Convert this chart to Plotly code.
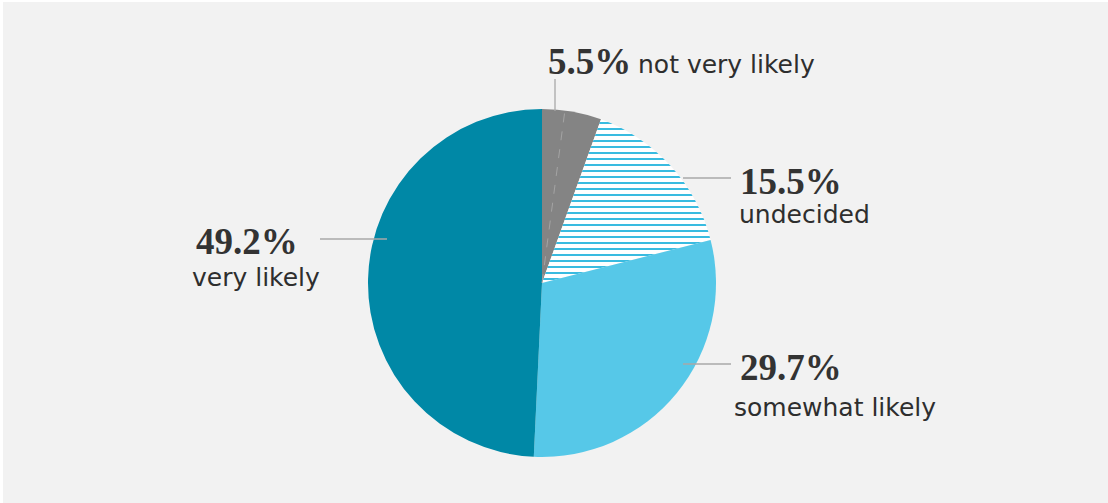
import math
import plotly.graph_objects as go

# Survey answer shares (percent), in drawing order clockwise from 12 o'clock
categories = ["not very likely", "undecided", "somewhat likely", "very likely"]
shares = [5.5, 15.5, 29.7, 49.2]
share_labels = ["5.5%", "15.5%", "29.7%", "49.2%"]
# the grey wedge is made of two answer groups; this is the first one's share
grey_subshare = 2.1

W, H = 1108, 503
CX, CY, R = 542, 283, 174  # pie centre and radius in pixels


def px(x, y):
    return x / W, 1 - y / H


slice_colors = ["#848484", "#ffffff", "#56c8e8", "#0088a6"]

fig = go.Figure(
    go.Pie(
        labels=categories,
        values=shares,
        sort=False,
        direction="clockwise",
        rotation=0,
        textinfo="none",
        hoverinfo="label+percent",
        marker=dict(
            colors=slice_colors,
            line=dict(width=0),
            pattern=dict(
                shape=["", "-", "", ""],
                fgcolor=["#848484", "#22b4dd", "#56c8e8", "#0088a6"],
                bgcolor=slice_colors,
                size=6,
                solidity=0.3,
                fillmode="replace",
            ),
        ),
        domain=dict(
            x=[(CX - R) / W, (CX + R) / W],
            y=[1 - (CY + R) / H, 1 - (CY - R) / H],
        ),
        showlegend=False,
    )
)

shapes = []
# panel background with a thin white edge at the top and left
shapes.append(dict(type="rect", xref="paper", yref="paper", x0=3 / W, x1=1, y0=0, y1=1 - 2 / H,
                   fillcolor="#f2f2f2", line=dict(width=0), layer="below"))

# faint dashed divider inside the grey wedge
theta = 2 * math.pi * grey_subshare / 100
x1, y1 = px(CX + R * math.sin(theta), CY - R * math.cos(theta))
x0, y0 = px(CX, CY)
shapes.append(dict(type="line", xref="paper", yref="paper", x0=x0, y0=y0, x1=x1, y1=y1,
                   line=dict(color="#a4a4a4", width=1, dash="dash")))

# leader lines
leaders = [
    ((555, 79), (555, 111)),
    ((683, 178), (731, 178)),
    ((683, 364), (731, 364)),
    ((320, 239), (387, 239)),
]
for (ax, ay), (bx, by) in leaders:
    p0 = px(ax, ay)
    p1 = px(bx, by)
    shapes.append(dict(type="line", xref="paper", yref="paper", x0=p0[0], y0=p0[1], x1=p1[0], y1=p1[1],
                       line=dict(color="#a8a8a8", width=1.3)))

num_font = dict(family="Liberation Serif", size=37, color="#333333", weight="bold")
txt_font = dict(family="DejaVu Sans", size=25, color="#2e2e2e")

annotations = []


def add(text, x, y, font):
    ax_, ay_ = px(x, y)
    annotations.append(dict(text=text, x=ax_, y=ay_, xref="paper", yref="paper",
                            xanchor="left", yanchor="middle", showarrow=False, font=font))


# numbers
add(share_labels[0], 546, 61, num_font)
add(share_labels[1], 738, 181, num_font)
add(share_labels[2], 738, 367, num_font)
add(share_labels[3], 194, 241, num_font)
# descriptions
add(categories[0], 636, 65, txt_font)
add(categories[1], 737, 214, txt_font)
add(categories[2], 732, 407, txt_font)
add(categories[3], 190, 277, txt_font)

fig.update_layout(
    width=W,
    height=H,
    margin=dict(l=0, r=0, t=0, b=0),
    paper_bgcolor="#ffffff",
    plot_bgcolor="#ffffff",
    shapes=shapes,
    annotations=annotations,
)

fig.write_html("out.html")
